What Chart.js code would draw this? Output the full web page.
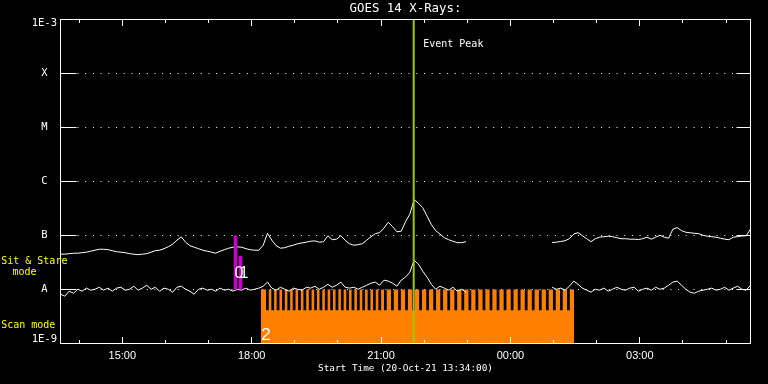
<!DOCTYPE html>
<html><head><meta charset="utf-8">
<script src="https://cdn.jsdelivr.net/npm/chart.js@4/dist/chart.umd.min.js"></script>
<style>html,body{margin:0;padding:0;background:#000;overflow:hidden}#c{display:block}</style>
</head><body>
<canvas id="c" width="768" height="384"></canvas>
<script>
// ---- data (hours of 20-Oct-21; values > 24 are the next day) ----
const START_HOUR = 13 + 34 / 60;        // Start Time 13:34:00
const SPAN_HOURS = 16;
const SAMPLE_HOURS = 0.1;               // 6-minute samples

// GOES 14 long channel (1-8 A), W/m^2
const longFlux = [
  4.51e-8, 4.51e-8, 4.61e-8, 4.70e-8, 4.70e-8, 4.80e-8, 4.91e-8, 5.12e-8, 5.34e-8, 5.57e-8,
  5.57e-8, 5.46e-8, 5.23e-8, 5.01e-8, 4.91e-8, 4.80e-8, 4.61e-8, 4.51e-8, 4.42e-8, 4.51e-8,
  4.61e-8, 4.91e-8, 5.23e-8, 5.34e-8, 5.70e-8, 6.21e-8, 6.90e-8, 8.18e-8, 9.42e-8, 7.52e-8,
  6.47e-8, 6.07e-8, 5.70e-8, 5.34e-8, 5.12e-8, 4.91e-8, 4.70e-8, 5.12e-8, 5.46e-8, 5.82e-8,
  6.07e-8, 6.15e-8, 6.07e-8, 5.70e-8, 5.46e-8, 5.34e-8, 5.34e-8, 6.61e-8, 1.10e-7, 8.18e-8,
  6.47e-8, 5.82e-8, 5.94e-8, 6.34e-8, 6.61e-8, 7.05e-8, 7.29e-8, 7.52e-8, 7.84e-8, 7.94e-8,
  7.52e-8, 7.68e-8, 9.91e-8, 8.36e-8, 8.54e-8, 9.91e-8, 8.18e-8, 7.05e-8, 6.61e-8, 6.76e-8,
  7.05e-8, 8.18e-8, 9.50e-8, 1.08e-7, 1.13e-7, 1.37e-7, 1.76e-7, 1.46e-7, 1.17e-7, 1.20e-7,
  1.80e-7, 2.48e-7, 4.60e-7, 3.97e-7, 3.27e-7, 2.28e-7, 1.59e-7, 1.23e-7, 1.06e-7, 9.10e-8,
  8.36e-8, 7.84e-8, 7.36e-8, 7.36e-8, 7.68e-8, null, null, null, null, null,
  null, null, null, null, null, null, null, null, null, null,
  null, null, null, null, 7.42e-8, 7.52e-8, 7.74e-8, 8.01e-8, 8.72e-8, 1.06e-7,
  1.13e-7, 9.91e-8, 8.72e-8, 7.68e-8, 8.72e-8, 9.30e-8, 9.50e-8, 9.71e-8, 9.50e-8, 9.10e-8,
  8.72e-8, 8.72e-8, 8.54e-8, 8.54e-8, 8.43e-8, 8.72e-8, 9.30e-8, 8.54e-8, 9.30e-8, 1.01e-7,
  9.30e-8, 8.91e-8, 1.31e-7, 1.40e-7, 1.23e-7, 1.15e-7, 1.12e-7, 1.10e-7, 1.08e-7, 1.01e-7,
  9.71e-8, 9.50e-8, 9.30e-8, 8.91e-8, 8.54e-8, 8.36e-8, 9.30e-8, 9.50e-8, 9.79e-8, 9.91e-8,
  1.31e-7
];

// GOES 14 short channel (0.5-4 A), W/m^2
const shortFlux = [
  8.18e-9, 7.51e-9, 9.30e-9, 8.53e-9, 1.01e-8, 9.30e-9, 1.06e-8, 9.71e-9, 1.01e-8, 1.10e-8,
  9.71e-9, 1.06e-8, 9.30e-9, 1.06e-8, 1.10e-8, 9.71e-9, 1.01e-8, 1.15e-8, 9.71e-9, 1.06e-8,
  1.20e-8, 1.01e-8, 1.10e-8, 9.30e-9, 1.06e-8, 1.01e-8, 8.91e-9, 1.10e-8, 1.15e-8, 1.01e-8,
  9.30e-9, 8.18e-9, 1.01e-8, 1.06e-8, 9.71e-9, 1.01e-8, 9.30e-9, 1.06e-8, 9.71e-9, 1.01e-8,
  9.30e-9, 1.01e-8, 9.71e-9, 1.06e-8, 9.71e-9, 1.01e-8, 1.06e-8, 1.15e-8, 1.37e-8, 1.06e-8,
  9.71e-9, 1.10e-8, 1.01e-8, 9.30e-9, 1.06e-8, 1.01e-8, 9.71e-9, 1.10e-8, 1.06e-8, 1.15e-8,
  1.01e-8, 1.10e-8, 1.25e-8, 1.10e-8, 1.20e-8, 1.37e-8, 1.10e-8, 1.06e-8, 1.10e-8, 1.01e-8,
  1.10e-8, 1.20e-8, 1.31e-8, 1.37e-8, 1.20e-8, 1.49e-8, 1.43e-8, 1.31e-8, 1.15e-8, 1.49e-8,
  1.69e-8, 2.09e-8, 3.49e-8, 2.94e-8, 2.18e-8, 1.69e-8, 1.25e-8, 1.01e-8, 1.15e-8, 1.06e-8,
  9.71e-9, 1.10e-8, 9.30e-9, 1.01e-8, 8.91e-9, null, null, null, null, null,
  null, null, null, null, null, null, null, null, null, null,
  null, null, null, null, 1.10e-8, 1.01e-8, 1.06e-8, 9.71e-9, 1.15e-8, 1.43e-8,
  1.25e-8, 1.06e-8, 9.71e-9, 8.91e-9, 1.01e-8, 9.71e-9, 1.06e-8, 9.30e-9, 1.01e-8, 1.10e-8,
  1.01e-8, 9.71e-9, 1.06e-8, 1.10e-8, 9.30e-9, 1.01e-8, 1.06e-8, 9.71e-9, 1.10e-8, 1.01e-8,
  1.06e-8, 1.20e-8, 1.37e-8, 1.43e-8, 1.20e-8, 1.01e-8, 8.91e-9, 8.53e-9, 9.30e-9, 9.71e-9,
  1.01e-8, 1.06e-8, 9.71e-9, 1.01e-8, 1.10e-8, 9.71e-9, 1.06e-8, 1.15e-8, 1.01e-8, 9.71e-9,
  1.20e-8
];

const yTickValues = [1e-9, 1e-8, 1e-7, 1e-6, 1e-5, 1e-4, 1e-3];
const yTickLabels = ['1E-9', 'A', 'B', 'C', 'M', 'X', '1E-3'];
const xTickHours  = [15, 18, 21, 24, 27];
const xTickLabels = ['15:00', '18:00', '21:00', '00:00', '03:00'];

// IRIS sit & stare observations
const sitStareIds   = ['0', '1'];
const sitStareTimes = [17.625, 17.741];
const sitStareTops  = [1e-7, 4.2e-8];
const sitStareBase  = 1e-8;

// IRIS scan observation
const scanId = '2';
const scanStart = 18.216;
const scanEnd = 25.474;
const scanTop = 1e-8;
const scanGapBottom = 4.14e-9;
const scanGapLength = 0.064;
const scanGapStarts = [
  18.332, 18.456, 18.580, 18.704, 18.828, 18.952, 19.076, 19.200, 19.325, 19.449,
  19.573, 19.697, 19.821, 19.945, 20.069, 20.193, 20.317, 20.441, 20.565, 20.689,
  20.813, 20.937,
  21.068, 21.231, 21.395, 21.558, 21.721, 21.884, 22.048, 22.211, 22.374, 22.537,
  22.701, 22.864, 23.027, 23.190, 23.354, 23.517, 23.680, 23.843, 24.007, 24.170,
  24.333, 24.496, 24.660, 24.823, 24.986, 25.149, 25.313
];

const eventPeak = 21.757;

// ---- build library data ----
const END_HOUR = START_HOUR + SPAN_HOURS;
const toPts = arr => arr.map((v, i) => ({ x: START_HOUR + i * SAMPLE_HOURS, y: v }));
const scanPts = [{ x: scanStart, y: scanTop }];
scanGapStarts.forEach(t => {
  scanPts.push({ x: t, y: scanGapBottom }, { x: t + scanGapLength, y: scanTop });
});
scanPts.push({ x: scanEnd, y: scanTop });
const ssPts = [];
sitStareTimes.forEach((t, i) => {
  if (i) ssPts.push({ x: (t + sitStareTimes[i - 1]) / 2, y: null });
  ssPts.push({ x: t, y: sitStareBase }, { x: t, y: sitStareTops[i] });
});

const WHITE = '#ffffff';
const YELLOW = '#ffff00';
const MONO = 'DejaVu Sans Mono';

const decor = {
  id: 'decor',
  beforeDraw(c) {
    const ctx = c.ctx; ctx.save(); ctx.fillStyle = '#000'; ctx.fillRect(0, 0, c.width, c.height); ctx.restore();
  },
  beforeDatasetsDraw(c) {
    const { ctx, chartArea: a, scales: { y } } = c;
    ctx.save(); ctx.strokeStyle = WHITE; ctx.lineWidth = 1; ctx.setLineDash([1, 6.7]);
    y.ticks.forEach(t => {
      if (t.value === y.min || t.value === y.max) return;
      const py = Math.floor(y.getPixelForValue(t.value)) + 0.5;
      ctx.beginPath(); ctx.moveTo(a.left + 17, py); ctx.lineTo(a.right - 14, py); ctx.stroke();
    });
    ctx.restore();
  },
  afterDatasetsDraw(c) {
    const { ctx, chartArea: a, scales: { x, y } } = c;
    ctx.save();
    ctx.strokeStyle = WHITE; ctx.lineWidth = 1;
    ctx.strokeRect(a.left, a.top, a.right - a.left, a.bottom - a.top);
    ctx.beginPath();
    y.ticks.forEach(t => {
      if (t.value === y.min || t.value === y.max) return;
      const py = Math.floor(y.getPixelForValue(t.value)) + 0.5;
      ctx.moveTo(a.left, py); ctx.lineTo(a.left + 16, py);
      ctx.moveTo(a.right - 14, py); ctx.lineTo(a.right, py);
    });
    for (let h = Math.ceil(START_HOUR); h <= END_HOUR; h++) {
      const px = Math.floor(x.getPixelForValue(h)) + 0.5;
      const len = xTickHours.includes(h) ? 6.5 : 3.5;
      ctx.moveTo(px, a.bottom); ctx.lineTo(px, a.bottom - len);
      ctx.moveTo(px, a.top); ctx.lineTo(px, a.top + len);
    }
    ctx.stroke();
    ctx.restore();
  },
  afterDraw(c) {
    const { ctx, chartArea: a, scales: { x, y } } = c;
    const yA = y.getPixelForValue(1e-8);
    ctx.save();
    ctx.textBaseline = 'alphabetic'; ctx.textAlign = 'left';
    ctx.fillStyle = WHITE; ctx.font = '10px ' + MONO;
    ctx.fillText('Event Peak', x.getPixelForValue(eventPeak) + 9.5, a.top + 27.3);
    ctx.fillStyle = YELLOW;
    ctx.fillText('Sit & Stare', 1.2, yA - 26);
    ctx.fillText('mode', 12.5, yA - 14.3);
    ctx.fillText('Scan mode', 1.2, a.bottom - 15.2);
    ctx.fillStyle = WHITE; ctx.font = '16px "Liberation Sans"';
    sitStareIds.forEach((id, i) => ctx.fillText(id, x.getPixelForValue(sitStareTimes[i]) - 1, yA - 11.2));
    ctx.font = '17px "Liberation Sans"';
    ctx.fillText(scanId, x.getPixelForValue(scanStart) + 0.3, a.bottom - 4);
    ctx.restore();
  }
};

new Chart(document.getElementById('c'), {
  type: 'line',
  data: {
    datasets: [
      { label: 'Scan mode', data: scanPts, stepped: true, borderWidth: 0, pointRadius: 0,
        fill: 'start', backgroundColor: '#ff8000', borderColor: 'rgba(0,0,0,0)', order: 5 },
      { label: 'Long', data: toPts(longFlux), borderColor: WHITE, borderWidth: 1, pointRadius: 0,
        fill: false, spanGaps: false, order: 3 },
      { label: 'Short', data: toPts(shortFlux), borderColor: WHITE, borderWidth: 1, pointRadius: 0,
        fill: false, spanGaps: false, order: 3 },
      { label: 'Sit & Stare', data: ssPts, borderColor: '#cc00cc', borderWidth: 3.5, borderCapStyle: 'butt',
        pointRadius: 0, fill: false, spanGaps: false, order: 2 },
      { label: 'Event Peak', data: [{ x: eventPeak, y: 1e-9 }, { x: eventPeak, y: 1e-3 }],
        borderColor: '#99cc00', borderWidth: 2, pointRadius: 0, fill: false, order: 1 }
    ]
  },
  options: {
    responsive: false, animation: false, devicePixelRatio: 1,
    layout: { padding: { left: 0, right: 17.5, top: 1.62, bottom: 0 } },
    plugins: {
      legend: { display: false }, tooltip: { enabled: false },
      title: { display: true, text: 'GOES 14 X-Rays:', color: WHITE, fullSize: false,
        font: { family: MONO, size: 12.4, weight: 'normal' }, padding: { top: 0, bottom: 3 } }
    },
    scales: {
      x: {
        type: 'linear', min: START_HOUR, max: END_HOUR,
        afterBuildTicks: s => { s.ticks = xTickHours.map(v => ({ value: v })); },
        afterFit: s => { s.height = 40.5; },
        grid: { display: false, drawTicks: false }, border: { display: false },
        ticks: { autoSkip: false, maxRotation: 0, color: WHITE, padding: 6,
          font: { family: 'Liberation Sans', size: 11 }, callback: (v, i) => xTickLabels[i] },
        title: { display: true, text: 'Start Time (20-Oct-21 13:34:00)', color: WHITE,
          font: { family: MONO, size: 9.4 }, padding: { top: 0, bottom: 10 } }
      },
      y: {
        type: 'logarithmic', min: 1e-9, max: 1e-3,
        afterBuildTicks: s => { s.ticks = yTickValues.map(v => ({ value: v })); },
        afterFit: s => { s.width = 60.5; },
        grid: { display: false, drawTicks: false }, border: { display: false },
        ticks: { autoSkip: false, color: WHITE, padding: 3.5, crossAlign: 'center',
          font: { family: MONO, size: 10.5, lineHeight: 0.8 },
          callback: (v, i) => i === 0 ? [yTickLabels[i], ''] :
            (i === yTickLabels.length - 1 ? ['', yTickLabels[i]] : yTickLabels[i]) }
      }
    }
  },
  plugins: [decor]
});
</script>
</body></html>
